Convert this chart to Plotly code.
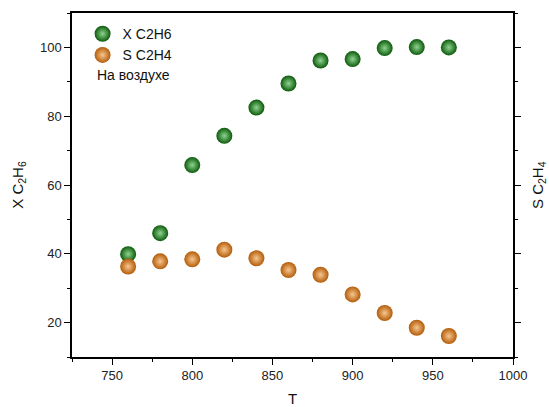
import plotly.graph_objects as go

T = [760, 780, 800, 820, 840, 860, 880, 900, 920, 940, 960]
X_C2H6 = [39.9, 46.0, 65.8, 74.3, 82.5, 89.5, 96.2, 96.6, 99.8, 100.1, 100.0]
S_C2H4 = [36.3, 37.8, 38.4, 41.2, 38.7, 35.3, 33.9, 28.2, 22.8, 18.5, 16.1]

FONT = "Liberation Sans, Arial, sans-serif"

fig = go.Figure()
fig.add_trace(go.Scatter(
    x=T, y=X_C2H6, mode="markers", name="X C2H6",
    marker=dict(size=16, color="#0b5a0b", line=dict(width=0),
                gradient=dict(type="radial", color="#8fd48f")),
    yaxis="y"))
fig.add_trace(go.Scatter(
    x=T, y=S_C2H4, mode="markers", name="S C2H4",
    marker=dict(size=16, color="#b35c08", line=dict(width=0),
                gradient=dict(type="radial", color="#f7c690")),
    yaxis="y2"))

axis_common = dict(showgrid=False, zeroline=False, showline=True,
                   linecolor="black", linewidth=1.5, automargin=False,
                   tickfont=dict(family=FONT, size=13, color="#222"),
                   ticks="outside", ticklen=6, tickwidth=1, tickcolor="black")

fig.update_layout(
    width=549, height=407,
    margin=dict(l=72, r=36, t=13, b=50),
    paper_bgcolor="white", plot_bgcolor="white",
    font=dict(family=FONT, size=14, color="#111"),
    showlegend=True,
    legend=dict(x=0.024, y=0.985, xanchor="left", yanchor="top",
                bgcolor="rgba(0,0,0,0)", font=dict(size=14),
                itemsizing="trace", tracegroupgap=0),
    xaxis=dict(range=[725, 1000], tick0=750, dtick=50, mirror=True,
               minor=dict(dtick=25, tick0=725, ticks="outside", ticklen=3,
                          tickcolor="black"),
               title=dict(text="T", font=dict(size=15), standoff=20),
               **axis_common),
    yaxis=dict(range=[10, 110], tick0=20, dtick=20,
               minor=dict(dtick=10, tick0=10, ticks="outside", ticklen=3,
                          tickcolor="black"),
               title=dict(text="X C<sub>2</sub>H<sub>6</sub>", font=dict(size=15),
                          standoff=13),
               **axis_common),
    yaxis2=dict(overlaying="y", side="right", matches="y",
                range=[10, 110], tick0=20, dtick=20, showticklabels=False,
                minor=dict(dtick=10, tick0=10, ticks="outside", ticklen=3,
                           tickcolor="black"),
                **axis_common),
)

# right-axis title (S C2H4), placed just outside the right axis
fig.add_annotation(text="S C<sub>2</sub>H<sub>4</sub>", xref="paper", yref="paper",
                   x=1, y=0.5, xshift=25, textangle=-90,
                   xanchor="center", yanchor="middle", showarrow=False,
                   font=dict(family=FONT, size=15, color="#111"))

fig.add_annotation(text="На воздухе", xref="paper", yref="paper",
                   x=0.052, y=0.82, xanchor="left", yanchor="middle",
                   showarrow=False, font=dict(family=FONT, size=14, color="#111"))

fig.write_html(
    "out.html",
    config={"displayModeBar": False},
    post_script="document.body.style.margin='0';document.body.style.overflow='hidden';",
)
